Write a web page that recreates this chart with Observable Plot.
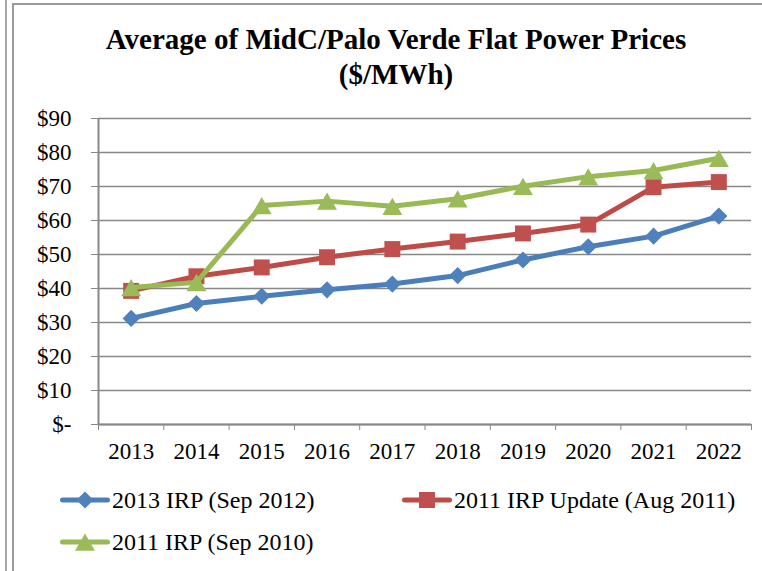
<!DOCTYPE html>
<html>
<head>
<meta charset="utf-8">
<script src="https://cdn.jsdelivr.net/npm/d3@7"></script>
<script src="https://cdn.jsdelivr.net/npm/@observablehq/plot@0.6"></script>
<style>
  html, body { margin: 0; padding: 0; background: #fff; }
  #wrap { position: relative; width: 762px; height: 571px; overflow: hidden; background: #fff; font-family: "Liberation Serif", "Times New Roman", serif; }
  #outerline { position: absolute; left: 5px; top: 0; width: 2px; height: 571px; background: #a6a6a6; }
  #frame { position: absolute; left: 12px; top: 3px; width: 900px; height: 700px; border-left: 2px solid #9a9a9a; border-top: 2px solid #9a9a9a; }
  #title { position: absolute; left: 30px; width: 732px; top: 22px; text-align: center; font-weight: bold; font-size: 29px; line-height: 35px; color: #000; }
  #chart { position: absolute; left: 0; top: 0; }
  .leg { position: absolute; display: flex; align-items: center; font-size: 24px; color: #000; white-space: nowrap; }
  .leg svg { display: block; margin-right: 2px; }
</style>
</head>
<body>
<div id="wrap">
  <div id="outerline"></div>
  <div id="frame"></div>
  <div id="title">Average of MidC/Palo Verde Flat Power Prices<br>($/MWh)</div>
  <div id="chart"></div>
</div>
<script>
// ---- data ----
const years = [2013, 2014, 2015, 2016, 2017, 2018, 2019, 2020, 2021, 2022];
const irp2013 = [31.2, 35.6, 37.7, 39.6, 41.3, 43.8, 48.4, 52.3, 55.4, 61.3];
const irpUpdate2011 = [39.3, 43.6, 46.2, 49.2, 51.6, 53.8, 56.2, 58.8, 69.8, 71.3];
const irp2011 = [40.3, 41.8, 64.4, 65.7, 64.2, 66.4, 70.1, 72.9, 74.7, 78.3];
const seriesNames = ["2013 IRP (Sep 2012)", "2011 IRP Update (Aug 2011)", "2011 IRP (Sep 2010)"];
const yTicks = [0, 10, 20, 30, 40, 50, 60, 70, 80, 90];

// ---- styles ----
const colors = ["#4A7EBB", "#BE4B48", "#98B954"];
const fills = ["#4F81BD", "#C0504D", "#9BBB59"];
const symbols = [d3.symbolDiamond2, d3.symbolSquare, d3.symbolTriangle];
const radii = [7.7, 9.0, 7.4];
const dys = [0, 0, 3];
const grey = "#888888";

const valuesList = [irp2013, irpUpdate2011, irp2011];
const tables = valuesList.map((vals, s) => years.map((yr, i) => ({year: yr, value: vals[i], series: seriesNames[s]})));

const xMin = years[0] - 0.5, xMax = years[years.length - 1] + 0.5;
const boundaries = [...years.map(y => y - 0.5), xMax];

const marks = [
  Plot.gridY(yTicks, {stroke: grey, strokeOpacity: 1, strokeWidth: 1.5}),
  Plot.axisY({ticks: yTicks, tickSize: 7, tickPadding: 20, stroke: grey, fill: "#000",
    tickFormat: d => d === 0 ? "$-" : "$" + d, label: null}),
  Plot.axisX({ticks: boundaries, tickSize: 6, stroke: grey, tickFormat: () => null, label: null}),
  Plot.axisX({ticks: years, tickSize: 0, tickPadding: 18, fill: "#000", tickFormat: d => String(d), label: null}),
  Plot.ruleX([xMin], {stroke: grey, strokeWidth: 2}),
  Plot.ruleY([0], {stroke: grey, strokeWidth: 2})
];
tables.forEach((t, s) => {
  marks.push(Plot.line(t, {x: "year", y: "value", stroke: colors[s], strokeWidth: 5, strokeLinejoin: "round", strokeLinecap: "round"}));
  marks.push(Plot.dot(t, {x: "year", y: "value", symbol: symbols[s], r: radii[s], fill: fills[s], stroke: "none", dy: dys[s]}));
});

const chart = Plot.plot({
  width: 762,
  height: 480,
  marginTop: 118,
  marginBottom: 56,
  marginLeft: 98,
  marginRight: 11,
  style: {fontFamily: "'Liberation Serif', 'Times New Roman', serif", fontSize: "23px", background: "transparent", overflow: "visible", color: "#000"},
  x: {type: "linear", domain: [xMin, xMax]},
  y: {type: "linear", domain: [0, 90]},
  marks
});
document.getElementById("chart").appendChild(chart);

// ---- legend (HTML) ----
const legendPos = [[60, 486], [402, 486], [60, 528]];
const wrap = document.getElementById("wrap");
seriesNames.forEach((name, s) => {
  const div = document.createElement("div");
  div.className = "leg";
  div.style.left = legendPos[s][0] + "px";
  div.style.top = legendPos[s][1] + "px";
  div.style.height = "28px";
  const sw = d3.create("svg").attr("width", 50).attr("height", 28);
  sw.append("line").attr("x1", 2.5).attr("x2", 47.5).attr("y1", 14).attr("y2", 14)
    .attr("stroke", colors[s]).attr("stroke-width", 5).attr("stroke-linecap", "round");
  sw.append("path").attr("transform", `translate(25,${14 + dys[s]})`)
    .attr("d", d3.symbol(symbols[s], Math.PI * radii[s] * radii[s])())
    .attr("fill", fills[s]);
  div.appendChild(sw.node());
  const span = document.createElement("span");
  span.textContent = name;
  div.appendChild(span);
  wrap.appendChild(div);
});
</script>
</body>
</html>
